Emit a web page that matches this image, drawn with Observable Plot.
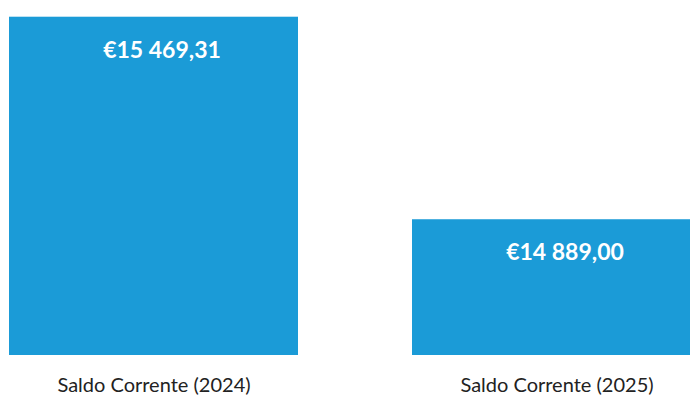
<!DOCTYPE html>
<html>
<head>
<meta charset="utf-8">
<script src="https://cdn.jsdelivr.net/npm/d3@7"></script>
<script src="https://cdn.jsdelivr.net/npm/@observablehq/plot@0.6"></script>
<style>
  html, body { margin: 0; padding: 0; background: #fff; }
  svg { display: block; }
</style>
</head>
<body>
<div id="chart"></div>
<script>
const categories = ["Saldo Corrente (2024)", "Saldo Corrente (2025)"];
const values = [15469.31, 14889.00];
const valueLabels = ["€15 469,31", "€14 889,00"];
const yDomain = [14500, 15500];

const data = categories.map((c, i) => ({category: c, value: values[i], label: valueLabels[i], base: yDomain[0]}));

const chart = Plot.plot({
  width: 690,
  height: 408,
  marginTop: 0, marginBottom: 0, marginLeft: 0, marginRight: 0,
  style: {fontFamily: "Lato, 'Open Sans', sans-serif", background: "#fff"},
  x: {domain: categories, range: [8, 702], paddingInner: 0.282, paddingOuter: 0, axis: null},
  y: {domain: yDomain, range: [355, 6], axis: null},
  marks: [
    Plot.barY(data, {x: "category", y1: "base", y2: "value", fill: "#1b9bd7"}),
    Plot.text(data, {x: "category", y: "value", text: "label", dy: 33, dx: 8, fill: "white", fontWeight: "bold", fontSize: 23}),
    Plot.axisX({tickSize: 0, tickPadding: 22, fontSize: 20, color: "#222", anchor: "bottom", y: yDomain[0], label: null, tickFormat: d => d})
  ]
});
document.getElementById("chart").appendChild(chart);
</script>
</body>
</html>
